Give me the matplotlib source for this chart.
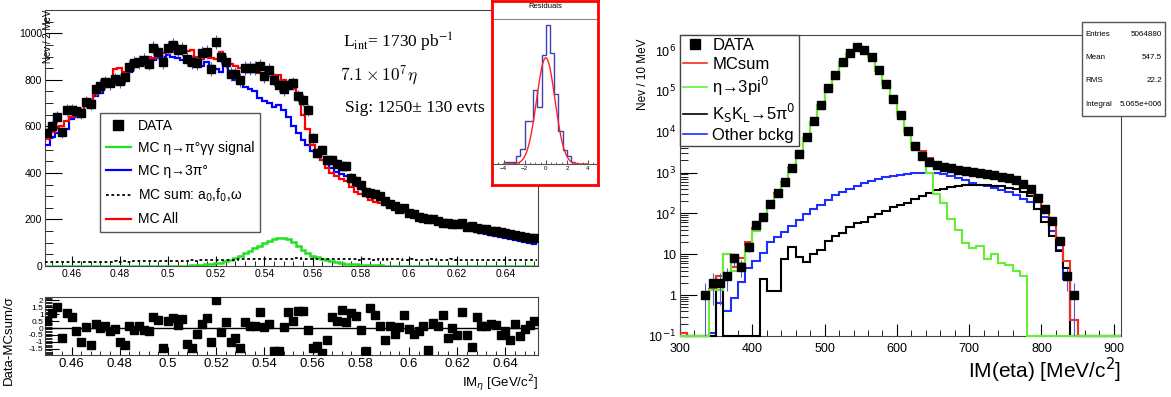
import numpy as np
import matplotlib
matplotlib.use("Agg")
import matplotlib.pyplot as plt
from matplotlib.patches import Rectangle
from matplotlib.lines import Line2D
from matplotlib.ticker import MultipleLocator, FixedLocator, FixedFormatter, LogLocator, NullFormatter, FuncFormatter

plt.rcParams["font.family"] = ["Liberation Sans", "DejaVu Sans"]

# -----------------------------
# Left panel: eta -> pi0 gamma gamma, 2 MeV bins
# -----------------------------
left_edges = 0.449 + 0.002 * np.arange(103)
left_centers = 0.450 + 0.002 * np.arange(102)

data_left = [
    570, 600, 640, 575, 670, 672, 665, 656, 704, 695,
    760, 775, 790, 786, 803, 795, 812, 855, 873, 877,
    886, 870, 937, 920, 877, 937, 950, 929, 933, 890,
    877, 873, 916, 920, 847, 963, 898, 877, 825, 825,
    799, 851, 851, 851, 860, 816, 842, 800, 777, 760,
    777, 786, 730, 713, 670, 549, 484, 497, 454, 454,
    440, 428, 428, 380, 367, 346, 320, 315, 310, 302,
    281, 265, 259, 246, 250, 229, 225, 212, 206, 203,
    203, 194, 186, 183, 181, 181, 186, 168, 170, 164,
    160, 158, 151, 151, 147, 143, 138, 134, 130, 125,
    121, 121,
]

mc_all_left = [
    545, 575, 595, 600, 625, 640, 655, 665, 700, 715,
    740, 760, 780, 800, 845, 850, 835, 860, 875, 880,
    875, 900, 895, 925, 915, 925, 920, 925, 930, 925,
    930, 900, 890, 905, 895, 890, 918, 875, 870, 860,
    850, 850, 835, 840, 830, 800, 825, 815, 820, 800,
    790, 760, 720, 650, 590, 520, 480, 455, 420, 400,
    385, 375, 365, 340, 320, 310, 300, 285, 275, 270,
    262, 255, 250, 240, 232, 225, 220, 212, 205, 203,
    198, 192, 188, 185, 180, 175, 172, 168, 165, 160,
    158, 152, 148, 143, 140, 138, 133, 128, 122, 116,
    112, 108,
]

mc_3pi0_left = [
    520, 555, 570, 585, 590, 630, 640, 650, 690, 700,
    730, 745, 770, 780, 800, 810, 815, 835, 855, 870,
    870, 860, 885, 895, 900, 905, 900, 895, 885, 875,
    880, 870, 860, 875, 860, 845, 835, 870, 820, 800,
    790, 770, 760, 750, 720, 710, 700, 685, 690, 670,
    640, 600, 570, 540, 520, 495, 475, 455, 440, 420,
    405, 395, 385, 360, 345, 333, 318, 305, 295, 285,
    275, 265, 252, 245, 238, 230, 225, 222, 218, 214,
    208, 202, 196, 185, 178, 170, 164, 158, 152, 146,
    142, 138, 134, 130, 126, 122, 118, 113, 108, 103,
    98, 95,
]

mc_signal_left = [
    0, 0, 0, 0, 0, 0, 0, 0, 0, 1,
    1, 0, 0, 1, 0, 0, 0, 1, 0, 0,
    1, 0, 0, 1, 1, 0, 1, 1, 2, 2,
    3, 4, 5, 7, 9, 12, 15, 20, 27, 35,
    45, 55, 65, 76, 86, 97, 107, 115, 120, 121,
    115, 104, 88, 70, 55, 45, 37, 30, 25, 20,
    16, 13, 10, 8, 7, 6, 5, 4, 3, 3,
    2, 2, 1, 1, 1, 1, 1, 1, 1, 0,
    1, 0, 1, 0, 0, 1, 0, 0, 0, 0,
    0, 1, 0, 0, 0, 0, 1, 0, 0, 0,
    0, 0,
]

mc_other_left = [
    17, 18, 17, 18, 19, 18, 17, 18, 19, 18,
    18, 19, 18, 19, 20, 19, 20, 19, 20, 21,
    20, 21, 22, 21, 22, 23, 22, 21, 22, 23,
    24, 23, 24, 25, 24, 25, 26, 25, 26, 27,
    28, 29, 30, 30, 31, 32, 31, 30, 32, 31,
    31, 32, 33, 32, 31, 32, 31, 30, 31, 32,
    29, 28, 30, 29, 28, 27, 28, 29, 27, 28,
    27, 28, 29, 28, 27, 26, 28, 27, 26, 27,
    28, 27, 26, 27, 28, 26, 27, 25, 26, 27,
    26, 27, 25, 26, 27, 26, 25, 27, 26, 25,
    26, 27,
]

pull_left = [
    0.49, 1.09, 1.53, -0.73, 1.09, 0.80, -0.24, -1.02, 0.07, -1.26,
    0.32, 0.00, 0.12, -0.24, -0.05, -1.02, -1.21, 0.12, -0.12, 0.12,
    -0.12, -0.24, 0.80, 0.61, -1.41, 0.49, 0.73, 0.24, 0.66, -1.17,
    -1.46, -0.41, 0.32, 0.73, -1.04, 2.01, -0.32, 0.41, -1.04, -0.73,
    -1.41, 0.41, 0.12, 0.12, 1.14, 0.07, 0.32, -1.65, -1.65, 0.07,
    1.14, 0.49, 1.21, 1.21, -0.12, -1.46, -1.33, -1.77, -0.85, 0.80,
    0.49, 1.29, 0.41, 1.09, 0.85, -0.12, -1.65, 1.46, 0.97, 0.12,
    -0.85, 0.12, -0.41, 0.07, 0.97, -0.07, -0.41, -0.24, 0.12, -1.58,
    0.36, 0.12, 0.97, -0.73, 0.00, -0.53, 1.14, -0.53, -1.38, 0.78,
    0.12, 0.12, 0.32, 0.24, -0.53, -0.24, -0.85, 0.32, -0.61, -0.10,
    0.20, 0.49,
]

# residual inset (distribution of pulls)
resid_edges = -4.0 + 0.4 * np.arange(18)
resid_counts = [6, 6, 6, 23, 45, 128, 128, 221, 171, 325, 416, 333, 211, 98, 43, 23, 5]
fit_amp, fit_mean, fit_sigma = 318, 0.0, 0.87

# -----------------------------
# Right panel: eta -> 3pi0, 10 MeV bins
# -----------------------------
right_edges = np.arange(300, 911, 10)
right_centers = right_edges[:-1] + 5

data_right = [
    0, 0, 0, 1, 2, 2, 3, 8, 5, 15,
    52, 80, 175, 310, 600, 1300, 2900, 7400, 18000, 45000,
    115000, 240000, 510000, 830000, 1200000, 1000000, 690000, 320000, 150000, 65000,
    26000, 10700, 4400, 2600, 1800, 1550, 1400, 1270, 1180, 1100,
    1030, 980, 920, 860, 800, 720, 640, 520, 400, 240,
    130, 66, 21, 3, 1, 0, 0, 0, 0, 0,
    0,
]

mcsum_right = [
    0.12, 0, 0, 0, 1.4, 3.0, 10.4, 4.9, 8.1, 19.5,
    45, 90, 171, 308, 600, 1315, 2880, 7100, 17640, 44200,
    112200, 235300, 500400, 820500, 1180500, 1000600, 680700, 310800, 145900, 63000,
    26000, 11100, 5200, 3360, 2320, 1620, 1480, 1335, 1240, 1150,
    1084, 1026, 958, 900, 846, 766, 684, 563, 450, 260,
    140, 66, 25, 7, 0.25, 0, 0, 0, 0, 0,
    0,
]

eta3pi0_right = [
    0, 0, 0, 0, 1.3, 1.3, 10, 4, 6, 15,
    38, 70, 150, 280, 560, 1250, 2800, 7000, 17500, 44000,
    112000, 235000, 500000, 820000, 1180000, 1000000, 680000, 310000, 145000, 62000,
    25000, 10000, 4000, 2100, 1000, 300, 180, 75, 40, 19,
    14, 16, 7.5, 10, 6, 5.5, 4, 3, 0, 0,
    0, 0, 0, 0, 0, 0, 0, 0, 0, 0,
    0,
]

kskl_right = [
    0, 0, 0, 0, 0, 1.3, 0, 0, 0, 0,
    0, 2.5, 1.25, 1.25, 7.5, 15, 8.5, 6.3, 10, 13,
    21, 28, 34, 47, 57, 60, 80, 95, 115, 140,
    160, 180, 230, 260, 320, 370, 400, 440, 480, 490,
    500, 500, 490, 480, 470, 430, 400, 330, 260, 130,
    60, 28, 12, 4.5, 0, 0, 0, 0, 0, 0,
    0,
]

other_right = [
    0.12, 0, 0, 0, 0.12, 0.65, 0.4, 0.85, 2.1, 4.5,
    7, 11, 20, 27, 35, 50, 70, 95, 125, 165,
    215, 280, 340, 400, 480, 560, 630, 700, 760, 820,
    880, 940, 980, 1000, 1000, 950, 900, 820, 720, 640,
    570, 510, 460, 410, 370, 330, 280, 230, 190, 130,
    80, 38, 13, 2.5, 0.25, 0, 0, 0, 0, 0,
    0,
]

stats_labels = ["Entries", "Mean", "RMS", "Integral"]
stats_values = ["5064880", "547.5", "22.2", "5.065e+006"]

# -----------------------------
# Figure layout (pixel boxes)
# -----------------------------
W, H = 1171, 397


def box(x0, y0, x1, y1):
    return [x0 / W, 1 - y1 / H, (x1 - x0) / W, (y1 - y0) / H]


fig = plt.figure(figsize=(W / 100, H / 100), dpi=100)

GREEN_L = "#22e022"
ERR_C = "#5a5ad0"
fmt_g = FuncFormatter(lambda v, p: f"{v:g}")

# ---- upper left ----
ax1 = fig.add_axes(box(45, 10, 538, 266))
ax1.stairs(mc_3pi0_left, left_edges, baseline=None, color="#0000ff", lw=1.6, zorder=3)
ax1.stairs(mc_all_left, left_edges, baseline=None, color="#ff0000", lw=1.6, zorder=4)
ax1.stairs(mc_signal_left, left_edges, baseline=None, color=GREEN_L, lw=1.8, zorder=3)
ax1.stairs(mc_other_left, left_edges, baseline=None, color="black", lw=1.3, ls=(0, (1.5, 1.5)), zorder=3)
data_left_arr = np.array(data_left, dtype=float)
ax1.errorbar(left_centers, data_left_arr, yerr=np.sqrt(data_left_arr), fmt="s", ms=5.3,
             color="black", ecolor=ERR_C, elinewidth=0.8, capsize=0, zorder=5)
ax1.set_xlim(0.449, 0.6535)
ax1.set_ylim(0, 1100)
ax1.xaxis.set_major_locator(MultipleLocator(0.02))
ax1.xaxis.set_minor_locator(MultipleLocator(0.004))
ax1.xaxis.set_major_formatter(fmt_g)
ax1.yaxis.set_major_locator(MultipleLocator(200))
ax1.yaxis.set_minor_locator(MultipleLocator(50))
ax1.tick_params(axis="both", which="both", direction="in", labelsize=7.5, pad=2)
ax1.tick_params(axis="y", which="major", length=12)
ax1.tick_params(axis="y", which="minor", length=6)
ax1.tick_params(axis="x", which="major", length=7)
ax1.tick_params(axis="x", which="minor", length=3.5)
for s in ax1.spines.values():
    s.set_color("#444444")

leg_handles = [
    Line2D([], [], ls="none", marker="s", ms=7, color="black"),
    Line2D([], [], color=GREEN_L, lw=1.6),
    Line2D([], [], color="#0000ff", lw=1.6),
    Line2D([], [], color="black", lw=1.3, ls=(0, (1.5, 1.5))),
    Line2D([], [], color="#ff0000", lw=1.6),
]
leg_labels = ["DATA", "MC η→π°γγ signal", "MC η→3π°", "MC sum: a$_0$,f$_0$,ω", "MC All"]
leg1 = ax1.legend(leg_handles, leg_labels, loc="upper left",
                  bbox_to_anchor=((100 - 45) / 493, (266 - 113) / 256),
                  borderaxespad=0, fontsize=10, frameon=True, fancybox=False,
                  edgecolor="#555555", framealpha=1, handlelength=1.8,
                  handletextpad=0.5, labelspacing=0.62, borderpad=0.4)
leg1.get_frame().set_linewidth(1.0)
leg1.set_zorder(6)

ax1.text((343 - 45) / 493, (266 - 42) / 256, "L$_{\\mathrm{int}}$= 1730 pb$^{-1}$",
         transform=ax1.transAxes, family="Liberation Serif", math_fontfamily="stix",
         fontsize=12.5, va="center", ha="left")
ax1.text((340 - 45) / 493, (266 - 75) / 256, "$7.1 \\times 10^7\\eta$",
         transform=ax1.transAxes, math_fontfamily="cm", fontsize=12.5, va="center", ha="left")
ax1.text((345 - 45) / 493, (266 - 108) / 256, "Sig: 1250± 130 evts",
         transform=ax1.transAxes, family="Liberation Serif", fontsize=12.5,
         va="center", ha="left")
fig.text(48 / W, 1 - 10 / H, "Nev / 2 MeV", rotation=90, ha="center", va="top", fontsize=7)

# ---- lower left (pulls) ----
ax2 = fig.add_axes(box(45, 297, 538, 355))
ax2.plot(left_centers, pull_left, "s", ms=5.5, color="black", zorder=4)
ax2.axhline(0, color="black", lw=1.0, zorder=3)
ax2.set_xlim(0.449, 0.6535)
ax2.set_ylim(-1.95, 2.25)
ax2.xaxis.set_major_locator(MultipleLocator(0.02))
ax2.xaxis.set_minor_locator(MultipleLocator(0.004))
ax2.xaxis.set_major_formatter(fmt_g)
ax2.yaxis.set_major_locator(MultipleLocator(0.5))
ax2.yaxis.set_minor_locator(MultipleLocator(0.1))
ax2.yaxis.set_major_formatter(fmt_g)
ax2.tick_params(axis="both", which="both", direction="in", labelsize=9.5, pad=2)
ax2.tick_params(axis="y", which="major", length=10, labelsize=6, pad=1)
ax2.tick_params(axis="y", which="minor", length=5)
ax2.tick_params(axis="x", which="major", length=6)
ax2.tick_params(axis="x", which="minor", length=3)
for s in ax2.spines.values():
    s.set_color("#444444")
fig.text(9 / W, 1 - 340 / H, "Data-MCsum/σ", rotation=90, ha="center", va="center", fontsize=9.5)
fig.text(538 / W, 1 - 384 / H, "IM$_\\eta$ [GeV/c$^2$]", ha="right", va="center", fontsize=9.5)

# ---- residual inset ----
ax_bg = fig.add_axes(box(492, 1, 598, 185), zorder=7)
ax_bg.set_xticks([])
ax_bg.set_yticks([])
for s in ax_bg.spines.values():
    s.set_color("#ff0000")
    s.set_linewidth(2)
ax_bg.axhline(1 - 18 / 184, color="#888888", lw=0.8)
ax_bg.text(0.5, 1 - 6 / 184, "Residuals", ha="center", va="center", fontsize=5.5)

ax_in = fig.add_axes(box(493, 19, 597, 164), zorder=8)
ax_in.patch.set_alpha(0)
ax_in.stairs(resid_counts, resid_edges, baseline=None, color="#4040b0", lw=1.0)
gx = np.linspace(-4.0, 4.0, 200)
ax_in.plot(gx, fit_amp * np.exp(-0.5 * ((gx - fit_mean) / fit_sigma) ** 2), color="#ff2020", lw=1.0)
ax_in.set_xlim(-5.0, 4.85)
ax_in.set_ylim(0, 434)
for k in ["top", "left", "right"]:
    ax_in.spines[k].set_visible(False)
ax_in.spines["bottom"].set_color("#555555")
ax_in.spines["bottom"].set_linewidth(0.8)
ax_in.set_yticks([])
ax_in.xaxis.set_major_locator(MultipleLocator(2))
ax_in.xaxis.set_minor_locator(MultipleLocator(0.5))
ax_in.tick_params(axis="x", which="both", direction="in", labelsize=4.5, pad=1.5, color="#555555")
ax_in.tick_params(axis="x", which="major", length=3)
ax_in.tick_params(axis="x", which="minor", length=1.5)

# ---- right panel ----
ax3 = fig.add_axes(box(680, 35, 1121, 336))
ax3.set_yscale("log")
floor = 0.1
ax3.stairs(np.clip(other_right, floor, None), right_edges, baseline=None, color="#1f2fff", lw=1.5, zorder=3, clip_on=False)
ax3.stairs(np.clip(kskl_right, floor, None), right_edges, baseline=None, color="black", lw=1.5, zorder=3, clip_on=False)
ax3.stairs(np.clip(mcsum_right, floor, None), right_edges, baseline=None, color="#f03020", lw=1.5, zorder=3, clip_on=False)
ax3.stairs(np.clip(eta3pi0_right, floor, None), right_edges, baseline=None, color="#66ee33", lw=1.5, zorder=4, clip_on=False)
data_r = np.array(data_right, dtype=float)
mask = data_r > 0
err_r = np.sqrt(data_r[mask])
err_lo = np.minimum(err_r, data_r[mask] - floor)
ax3.errorbar(right_centers[mask], data_r[mask], yerr=[err_lo, err_r], fmt="s", ms=5.5,
             color="black", ecolor=ERR_C, elinewidth=0.8, capsize=0, zorder=5)
ax3.set_xlim(300, 910)
ax3.set_ylim(0.1, 2.33e6)
ax3.xaxis.set_major_locator(MultipleLocator(100))
ax3.xaxis.set_minor_locator(MultipleLocator(20))
ax3.yaxis.set_major_locator(FixedLocator([0.1, 1, 10, 100, 1e3, 1e4, 1e5, 1e6]))
ax3.yaxis.set_major_formatter(FixedFormatter(["10$^{-1}$", "1", "10", "10$^{2}$", "10$^{3}$",
                                              "10$^{4}$", "10$^{5}$", "10$^{6}$"]))
ax3.yaxis.set_minor_locator(LogLocator(base=10, subs=np.arange(2, 10), numticks=20))
ax3.yaxis.set_minor_formatter(NullFormatter())
ax3.tick_params(axis="both", which="both", direction="in", labelsize=9)
ax3.tick_params(axis="y", which="major", length=12, pad=3)
ax3.tick_params(axis="y", which="minor", length=6)
ax3.tick_params(axis="x", which="major", length=9, pad=5)
ax3.tick_params(axis="x", which="minor", length=4.5)
for s in ax3.spines.values():
    s.set_color("#444444")

leg_r_handles = [
    Line2D([], [], ls="none", marker="s", ms=7, color="black"),
    Line2D([], [], color="#f03020", lw=1.2),
    Line2D([], [], color="#66ee33", lw=1.2),
    Line2D([], [], color="black", lw=1.2),
    Line2D([], [], color="#1f2fff", lw=1.2),
]
leg_r_labels = ["DATA", "MCsum", "η→3pi$^0$", "K$_{\\rm S}$K$_{\\rm L}$→5π$^0$", "Other bckg"]
leg3 = ax3.legend(leg_r_handles, leg_r_labels, loc="upper left", bbox_to_anchor=(0, 1),
                  borderaxespad=0, fontsize=12, frameon=True, fancybox=False,
                  edgecolor="#444444", framealpha=1, handlelength=1.4,
                  handletextpad=0.35, labelspacing=0.2, borderpad=0.2)
leg3.get_frame().set_linewidth(1.0)
leg3.set_zorder(6)

fig.text(643 / W, 1 - 38 / H, "Nev / 10 MeV", rotation=90, ha="center", va="top", fontsize=8.5)
fig.text(1121 / W, 1 - 370 / H, "IM(eta) [MeV/c$^2$]", ha="right", va="center", fontsize=15)

# stats box
fig.add_artist(Rectangle((1082 / W, 1 - 116 / H), 83 / W, 94 / H, transform=fig.transFigure,
                         facecolor="white", edgecolor="#555555", lw=1.0, zorder=10))
for i, (lab, val) in enumerate(zip(stats_labels, stats_values)):
    yy = 1 - (34 + i * 23.5) / H
    fig.text(1085 / W, yy, lab, ha="left", va="center", fontsize=5.8, zorder=11)
    fig.text(1162 / W, yy, val, ha="right", va="center", fontsize=5.8, zorder=11)

fig.savefig("out.png", dpi=100)
